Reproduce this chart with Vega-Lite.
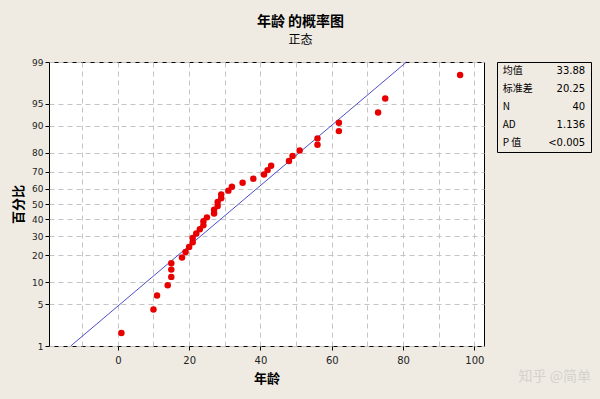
{
  "$schema": "https://vega.github.io/schema/vega-lite/v6.json",
  "background": "#EFEBE2",
  "autosize": {"type": "none"},
  "padding": {"left": 49, "top": 62, "right": 551, "bottom": 337},
  "config": {
    "font": "Noto Sans CJK SC",
    "view": {"stroke": null},
    "axis": {
      "labelFont": "DejaVu Sans",
      "labelFontSize": 10,
      "labelColor": "#222222",
      "labelOverlap": false,
      "labelBound": false,
      "titleFont": "Noto Sans CJK SC",
      "titleFontSize": 13,
      "titleFontWeight": "bold",
      "titleColor": "#000000",
      "tickColor": "#000000",
      "domain": false,
      "grid": true,
      "gridColor": "#C4C4C4",
      "gridDash": [5, 4],
      "gridWidth": 1
    }
  },
  "datasets": {
    "points": [
      {"age": 1, "z": -2.113}, {"age": 10, "z": -1.727}, {"age": 11, "z": -1.499}, {"age": 14, "z": -1.332},
      {"age": 15, "z": -1.194}, {"age": 15, "z": -1.075}, {"age": 15, "z": -0.970}, {"age": 18, "z": -0.875},
      {"age": 19, "z": -0.788}, {"age": 20, "z": -0.706}, {"age": 21, "z": -0.628}, {"age": 21, "z": -0.555},
      {"age": 22, "z": -0.484}, {"age": 23, "z": -0.415}, {"age": 24, "z": -0.348}, {"age": 24, "z": -0.283},
      {"age": 25, "z": -0.219}, {"age": 27, "z": -0.156}, {"age": 27, "z": -0.093}, {"age": 28, "z": -0.031},
      {"age": 28, "z": 0.031}, {"age": 29, "z": 0.093}, {"age": 29, "z": 0.156}, {"age": 31, "z": 0.219},
      {"age": 32, "z": 0.283}, {"age": 35, "z": 0.348}, {"age": 38, "z": 0.415}, {"age": 41, "z": 0.484},
      {"age": 42, "z": 0.555}, {"age": 43, "z": 0.628}, {"age": 48, "z": 0.706}, {"age": 49, "z": 0.788},
      {"age": 51, "z": 0.875}, {"age": 56, "z": 0.970}, {"age": 56, "z": 1.075}, {"age": 62, "z": 1.194},
      {"age": 62, "z": 1.332}, {"age": 73, "z": 1.499}, {"age": 75, "z": 1.727}, {"age": 96, "z": 2.113}
    ],
    "fit": [
      {"age": -13.22, "z": -2.3263},
      {"age": 80.98, "z": 2.3263}
    ],
    "stats": [
      {"row": 1, "col": "label", "text": "均值"}, {"row": 1, "col": "value", "text": "33.88"},
      {"row": 2, "col": "label", "text": "标准差"}, {"row": 2, "col": "value", "text": "20.25"},
      {"row": 3, "col": "label", "text": "N"}, {"row": 3, "col": "value", "text": "40"},
      {"row": 4, "col": "label", "text": "AD"}, {"row": 4, "col": "value", "text": "1.136"},
      {"row": 5, "col": "label", "text": "P 值"}, {"row": 5, "col": "value", "text": "<0.005"}
    ]
  },
  "bounds": "flush",
  "spacing": 13,
  "hconcat": [
    {
      "width": 435,
      "height": 284,
      "view": {"fill": "#FFFFFF", "stroke": "#000000", "strokeWidth": 1},
      "title": {
        "text": "年龄 的概率图",
        "subtitle": "正态",
        "anchor": "middle",
        "dx": 34,
        "offset": 12,
        "fontSize": 14,
        "fontWeight": "bold",
        "color": "#000000",
        "subtitleFont": "Noto Sans CJK SC",
        "subtitleFontSize": 12,
        "subtitleColor": "#000000",
        "subtitlePadding": 6
      },
      "layer": [
        {
          "data": {"name": "fit"},
          "mark": {"type": "line", "color": "#4C4CCC", "strokeWidth": 1},
          "encoding": {
            "x": {"field": "age", "type": "quantitative"},
            "y": {"field": "z", "type": "quantitative"}
          }
        },
        {
          "data": {"name": "points"},
          "mark": {"type": "circle", "color": "#E80000", "size": 42, "opacity": 1},
          "encoding": {
            "x": {
              "field": "age",
              "type": "quantitative",
              "scale": {"domain": [-19.3, 102.7], "nice": false, "zero": false},
              "axis": {
                "title": "年龄",
                "values": [-10, 0, 10, 20, 30, 40, 50, 60, 70, 80, 90, 100],
                "tickCount": 40,
                "labelExpr": "(datum.value % 20 === 0) ? datum.label : ''",
                "tickSize": {"condition": {"test": "datum.value % 20 !== 0", "value": 0}, "value": 4},
                "labelPadding": 5,
                "titlePadding": 7
              }
            },
            "y": {
              "field": "z",
              "type": "quantitative",
              "scale": {"domain": [-2.3263, 2.3263], "nice": false, "zero": false},
              "axis": {
                "title": "百分比",
                "values": [2.3263, 1.6449, 1.2816, 0.8416, 0.5244, 0.2533, 0, -0.2533, -0.5244, -0.8416, -1.2816, -1.6449, -2.3263],
                "tickCount": 40,
                "labelExpr": "datum.value > 2 ? '99' : datum.value > 1.5 ? '95' : datum.value > 1 ? '90' : datum.value > 0.7 ? '80' : datum.value > 0.4 ? '70' : datum.value > 0.1 ? '60' : datum.value > -0.1 ? '50' : datum.value > -0.4 ? '40' : datum.value > -0.7 ? '30' : datum.value > -1 ? '20' : datum.value > -1.5 ? '10' : datum.value > -2 ? '5' : '1'",
                "labelFontSize": 9,
                "tickSize": 4,
                "labelPadding": 2,
                "titlePadding": 6
              }
            }
          }
        }
      ]
    },
    {
      "width": 94,
      "height": 90,
      "view": {"stroke": "#000000", "strokeWidth": 1, "fill": null},
      "data": {"name": "stats"},
      "title": {
        "text": "知乎 @简单",
        "orient": "bottom",
        "anchor": "end",
        "offset": 218,
        "fontSize": 14,
        "fontWeight": "normal",
        "color": "#D5D2CC"
      },
      "encoding": {
        "x": {"field": "col", "type": "nominal", "scale": {"type": "point", "domain": ["label", "value"], "padding": 0.07}, "axis": null},
        "y": {"field": "row", "type": "ordinal", "scale": {"type": "point", "padding": 0.5}, "axis": null},
        "text": {"field": "text"}
      },
      "layer": [
        {
          "transform": [{"filter": "datum.col === 'label'"}],
          "mark": {"type": "text", "align": "left", "baseline": "middle", "fontSize": 10, "color": "#000000"}
        },
        {
          "transform": [{"filter": "datum.col === 'value'"}],
          "mark": {"type": "text", "align": "right", "baseline": "middle", "fontSize": 10, "font": "DejaVu Sans", "color": "#000000"}
        }
      ]
    }
  ]
}
